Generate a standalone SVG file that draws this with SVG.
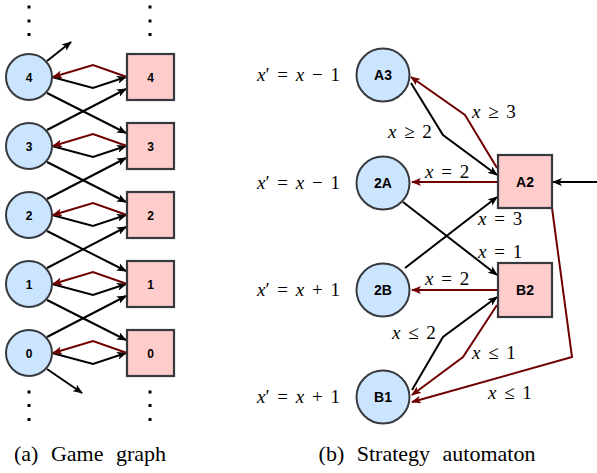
<svg xmlns="http://www.w3.org/2000/svg" width="597" height="473" viewBox="0 0 597 473">
<defs>
<marker id="ak" markerWidth="10" markerHeight="8" refX="9" refY="4" orient="auto" markerUnits="userSpaceOnUse"><path d="M0,0 L10,4 L0,8 L2.5,4 Z" fill="#000"/></marker>
<marker id="ar" markerWidth="10" markerHeight="8" refX="9" refY="4" orient="auto" markerUnits="userSpaceOnUse"><path d="M0,0 L10,4 L0,8 L2.5,4 Z" fill="#6f0000"/></marker>
</defs>
<style>
.c{fill:#cce5ff;stroke:#36393d;stroke-width:2}
.s{fill:#ffcccc;stroke:#36393d;stroke-width:2.2}
.nl{font-family:"Liberation Sans",Arial,sans-serif;font-weight:bold;fill:#000;text-anchor:middle}
.e{fill:none;stroke:#000;stroke-width:2;marker-end:url(#ak)}
.r{fill:none;stroke:#6f0000;stroke-width:2;marker-end:url(#ar)}
.m{font-family:"Liberation Serif","Times New Roman",serif;font-size:19px;fill:#000;word-spacing:3px}
.i{font-style:italic}
.cap{font-family:"Liberation Serif","Times New Roman",serif;font-size:22px;fill:#000;text-anchor:middle;word-spacing:7px}
.dot{fill:#000}
</style>
<!-- connectors -->
<g id="connectors">
<!-- left panel -->
<path class="e" d="M52,77 L93,88 L126,77"/>
<path class="r" d="M127,77 L93,65 L53,77"/>
<path class="e" d="M52,146 L93,157 L126,146"/>
<path class="r" d="M127,146 L93,134 L53,146"/>
<path class="e" d="M52,215 L93,226 L126,215"/>
<path class="r" d="M127,215 L93,203 L53,215"/>
<path class="e" d="M52,284 L93,295 L126,284"/>
<path class="r" d="M127,284 L93,272 L53,284"/>
<path class="e" d="M52,353 L93,364 L126,353"/>
<path class="r" d="M127,353 L93,341 L53,353"/>
<path class="e" d="M47,93 L126,133"/>
<path class="e" d="M47,162 L126,202"/>
<path class="e" d="M47,231 L126,271"/>
<path class="e" d="M47,300 L126,340"/>
<path class="e" d="M47,130 L126,89"/>
<path class="e" d="M47,199 L126,158"/>
<path class="e" d="M47,268 L126,227"/>
<path class="e" d="M47,337 L126,296"/>
<path class="e" d="M47,61 L71,42"/>
<path class="e" d="M47,369 L82,393"/>
<!-- right panel -->
<path class="r" d="M497,168 L465,115 L411,77"/>
<path class="e" d="M411,83 L443,135 L497,175"/>
<path class="r" d="M497,182 L412,182"/>
<path class="e" d="M403,202 L497,275"/>
<path class="e" d="M405,268 L497,197"/>
<path class="r" d="M497,290 L412,290"/>
<path class="e" d="M412,390 L443,337 L497,297"/>
<path class="r" d="M497,305 L463,357 L412,395"/>
<path class="r" d="M552,208 L572,357 L412,402"/>
<path class="e" d="M597,182 L553,182"/>
</g>
<!-- left nodes -->
<g id="c4"><circle class="c" cx="29" cy="77" r="23"/><text class="nl" x="29" y="81.5" font-size="12">4</text></g>
<g id="c3"><circle class="c" cx="29" cy="146" r="23"/><text class="nl" x="29" y="150.5" font-size="12">3</text></g>
<g id="c2"><circle class="c" cx="29" cy="215" r="23"/><text class="nl" x="29" y="219.5" font-size="12">2</text></g>
<g id="c1"><circle class="c" cx="29" cy="284" r="23"/><text class="nl" x="29" y="288.5" font-size="12">1</text></g>
<g id="c0"><circle class="c" cx="29" cy="353" r="23"/><text class="nl" x="29" y="357.5" font-size="12">0</text></g>
<g id="s4"><rect class="s" x="127" y="54" width="47" height="46"/><text class="nl" x="150.5" y="81.5" font-size="12">4</text></g>
<g id="s3"><rect class="s" x="127" y="123" width="47" height="46"/><text class="nl" x="150.5" y="150.5" font-size="12">3</text></g>
<g id="s2"><rect class="s" x="127" y="192" width="47" height="46"/><text class="nl" x="150.5" y="219.5" font-size="12">2</text></g>
<g id="s1"><rect class="s" x="127" y="261" width="47" height="46"/><text class="nl" x="150.5" y="288.5" font-size="12">1</text></g>
<g id="s0"><rect class="s" x="127" y="330" width="47" height="46"/><text class="nl" x="150.5" y="357.5" font-size="12">0</text></g>
<g id="dots">
<rect class="dot" x="27.5" y="5.5" width="3" height="3"/><rect class="dot" x="27.5" y="19.5" width="3" height="3"/><rect class="dot" x="27.5" y="33" width="3" height="3"/>
<rect class="dot" x="148.5" y="5.5" width="3" height="3"/><rect class="dot" x="148.5" y="19.5" width="3" height="3"/><rect class="dot" x="148.5" y="33" width="3" height="3"/>
<rect class="dot" x="27.5" y="390.5" width="3" height="3"/><rect class="dot" x="27.5" y="404" width="3" height="3"/><rect class="dot" x="27.5" y="418" width="3" height="3"/>
<rect class="dot" x="148.5" y="390.5" width="3" height="3"/><rect class="dot" x="148.5" y="404" width="3" height="3"/><rect class="dot" x="148.5" y="418" width="3" height="3"/>
</g>
<!-- right nodes -->
<g id="A3"><circle class="c" cx="383" cy="75" r="26.5"/><text class="nl" x="383" y="80" font-size="14">A3</text></g>
<g id="n2A"><circle class="c" cx="383" cy="183" r="26.5"/><text class="nl" x="383" y="188" font-size="14">2A</text></g>
<g id="n2B"><circle class="c" cx="383" cy="290" r="26.5"/><text class="nl" x="383" y="295" font-size="14">2B</text></g>
<g id="B1"><circle class="c" cx="383" cy="397" r="26.5"/><text class="nl" x="383" y="402" font-size="14">B1</text></g>
<g id="A2"><rect class="s" x="498" y="155" width="54" height="53"/><text class="nl" x="525" y="187" font-size="14">A2</text></g>
<g id="B2"><rect class="s" x="498" y="263" width="54" height="54"/><text class="nl" x="525" y="295" font-size="14">B2</text></g>
<!-- labels -->
<g id="labels">
<text class="m" x="257" y="81"><tspan class="i">x</tspan>′ = <tspan class="i">x</tspan> − 1</text>
<text class="m" x="257" y="189"><tspan class="i">x</tspan>′ = <tspan class="i">x</tspan> − 1</text>
<text class="m" x="257" y="296"><tspan class="i">x</tspan>′ = <tspan class="i">x</tspan> + 1</text>
<text class="m" x="257" y="403"><tspan class="i">x</tspan>′ = <tspan class="i">x</tspan> + 1</text>
<text class="m" x="472" y="118"><tspan class="i">x</tspan> ≥ 3</text>
<text class="m" x="388" y="138"><tspan class="i">x</tspan> ≥ 2</text>
<text class="m" x="425" y="178"><tspan class="i">x</tspan> = 2</text>
<text class="m" x="478" y="225"><tspan class="i">x</tspan> = 3</text>
<text class="m" x="478" y="258"><tspan class="i">x</tspan> = 1</text>
<text class="m" x="425" y="285"><tspan class="i">x</tspan> = 2</text>
<text class="m" x="392" y="339"><tspan class="i">x</tspan> ≤ 2</text>
<text class="m" x="472" y="359"><tspan class="i">x</tspan> ≤ 1</text>
<text class="m" x="488" y="399"><tspan class="i">x</tspan> ≤ 1</text>
</g>
<text class="cap" x="90" y="461">(a) Game graph</text>
<text class="cap" x="427" y="461">(b) Strategy automaton</text>
</svg>
